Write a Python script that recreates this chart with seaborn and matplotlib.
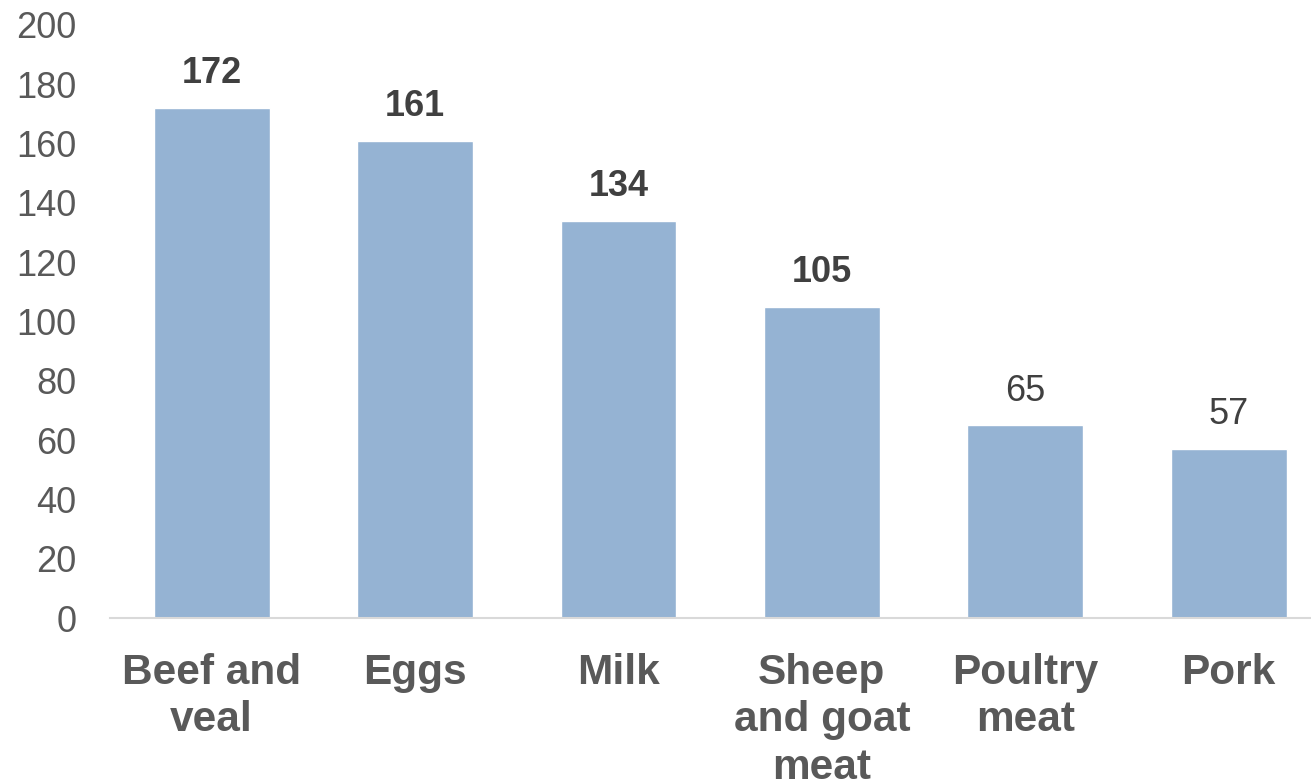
import matplotlib
matplotlib.use("Agg")
import matplotlib.pyplot as plt
import seaborn as sns
import pandas as pd

categories = ["Beef and\nveal", "Eggs", "Milk", "Sheep\nand goat\nmeat", "Poultry\nmeat", "Pork"]
values = [172, 161, 134, 105, 65, 57]
bold_labels = [True, True, True, True, False, False]
yticks = [0, 20, 40, 60, 80, 100, 120, 140, 160, 180, 200]

sns.set_theme(style="white")
plt.rcParams['font.family'] = ['Liberation Sans', 'DejaVu Sans']

df = pd.DataFrame({"cat": categories, "val": values})

fig = plt.figure(figsize=(13.11, 7.84), dpi=100)
ax = fig.add_axes([110/1311, (784-618)/784, 1201/1311, 593/784])
sns.barplot(data=df, x="cat", y="val", color="#95B3D3", saturation=1, width=0.57, ax=ax)

ax.set_ylim(0, 200)
ax.set_xlim(-0.5, -0.5 + 1201/203.4)
ax.set_yticks(yticks)
ax.set_yticklabels([str(t) for t in yticks])
ax.tick_params(axis='y', length=0, pad=24, labelsize=26, labelcolor="#595959")
ax.tick_params(axis='x', length=0, pad=25, labelsize=30.5, labelcolor="#595959")
for lbl in ax.get_xticklabels():
    lbl.set_fontweight("bold")
    lbl.set_verticalalignment("top")
    lbl.set_linespacing(1.25)
ax.set_xlabel("")
ax.set_ylabel("")
for s in ["top", "right", "left"]:
    ax.spines[s].set_visible(False)
ax.spines["bottom"].set_color("#d9d9d9")
ax.spines["bottom"].set_linewidth(1.5)

for i, (v, b) in enumerate(zip(values, bold_labels)):
    ax.annotate(str(v), (i, v), xytext=(0, 12), textcoords="offset points",
                ha="center", va="bottom", fontsize=26, color="#404040",
                fontweight="bold" if b else "normal")

fig.savefig("out.png", dpi=100)
